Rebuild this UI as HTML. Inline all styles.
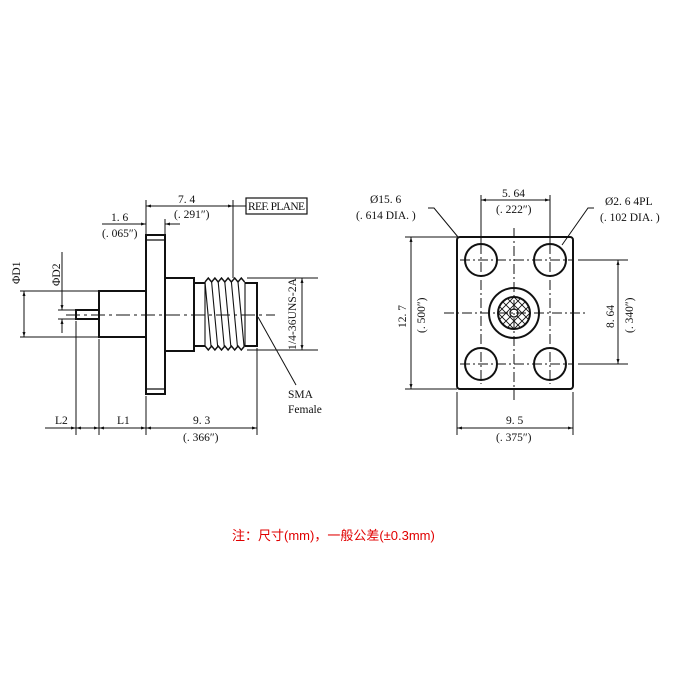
<!DOCTYPE html>
<html><head><meta charset="utf-8"><style>
body{margin:0;background:#fff;width:680px;height:680px;overflow:hidden}
svg text{font-family:"Liberation Serif","Noto Serif CJK SC",serif;font-size:11.5px;fill:#111}
</style></head><body>
<svg width="680" height="680" viewBox="0 0 680 680" xmlns="http://www.w3.org/2000/svg">
<defs>
<marker id="a" viewBox="0 0 10 10" refX="10" refY="5" markerWidth="7" markerHeight="5" orient="auto-start-reverse"><path d="M0,2 L10,5 L0,8z" fill="#111"/></marker>
<clipPath id="hc"><circle cx="514" cy="313" r="16"/></clipPath>
</defs>
<g stroke="#111" fill="none" stroke-width="2">
<rect x="146" y="235" width="19" height="159"/>
<line x1="146" y1="240" x2="165" y2="240" stroke-width="1.2"/>
<line x1="146" y1="389" x2="165" y2="389" stroke-width="1.2"/>
<rect x="165" y="278" width="29" height="73"/>
<rect x="99" y="291" width="47" height="46"/>
<rect x="76" y="310" width="23" height="9"/>
<path d="M194,283 H205 M194,346 H205 M245,283 H257 V346 H245"/>
<path d="M205,282 l3.3,-4 3.3,4 3.3,-4 3.3,4 3.3,-4 3.3,4 3.3,-4 3.3,4 3.3,-4 3.3,4 3.3,-4 3.3,4" stroke-width="1.4"/>
<path d="M205,346 l3.3,4 3.3,-4 3.3,4 3.3,-4 3.3,4 3.3,-4 3.3,4 3.3,-4 3.3,4 3.3,-4 3.3,4 3.3,-4" stroke-width="1.4"/>
<g stroke-width="1.1">
<line x1="205" y1="282" x2="211" y2="346"/><line x1="211.6" y1="282" x2="217.6" y2="346"/><line x1="218.2" y1="282" x2="224.2" y2="346"/><line x1="224.8" y1="282" x2="230.8" y2="346"/><line x1="231.4" y1="282" x2="237.4" y2="346"/><line x1="238" y1="282" x2="244" y2="346"/>
<line x1="205" y1="282" x2="205" y2="346"/><line x1="245" y1="282" x2="245" y2="346"/>
</g>
</g>
<g stroke="#111" fill="none" stroke-width="1">
<line x1="66" y1="315" x2="275" y2="315" stroke-dasharray="14,4,3,4"/>
<line x1="20" y1="291" x2="99" y2="291"/><line x1="20" y1="337" x2="99" y2="337"/>
<line x1="24" y1="291" x2="24" y2="337" marker-start="url(#a)" marker-end="url(#a)"/>
<line x1="58" y1="310" x2="76" y2="310"/><line x1="58" y1="319" x2="76" y2="319"/>
<line x1="62" y1="252" x2="62" y2="310" marker-end="url(#a)"/>
<line x1="62" y1="333" x2="62" y2="319" marker-end="url(#a)"/>
<line x1="76" y1="321" x2="76" y2="435"/><line x1="99" y1="339" x2="99" y2="435"/>
<line x1="146" y1="396" x2="146" y2="435"/><line x1="257" y1="348" x2="257" y2="435"/>
<line x1="45" y1="428" x2="76" y2="428" marker-end="url(#a)"/>
<line x1="76" y1="428" x2="99" y2="428" marker-start="url(#a)" marker-end="url(#a)"/>
<line x1="99" y1="428" x2="146" y2="428" marker-start="url(#a)" marker-end="url(#a)"/>
<line x1="146" y1="428" x2="257" y2="428" marker-start="url(#a)" marker-end="url(#a)"/>
<line x1="146" y1="200" x2="146" y2="235"/><line x1="165" y1="219" x2="165" y2="235"/>
<line x1="146" y1="206" x2="233" y2="206" marker-start="url(#a)" marker-end="url(#a)"/>
<line x1="233" y1="200" x2="233" y2="278"/><line x1="233" y1="206" x2="246" y2="206"/>
<line x1="102" y1="224" x2="146" y2="224" marker-end="url(#a)"/>
<line x1="180" y1="224" x2="165" y2="224" marker-end="url(#a)"/>
<line x1="247" y1="278" x2="318" y2="278"/><line x1="247" y1="350" x2="318" y2="350"/>
<line x1="302" y1="278" x2="302" y2="350" marker-start="url(#a)" marker-end="url(#a)"/>
<line x1="258" y1="317" x2="296" y2="385"/>
</g>
<rect x="246" y="198" width="61" height="16" fill="none" stroke="#111" stroke-width="1.2"/>
<text x="248" y="210" font-size="10" textLength="57">REF. PLANE</text>
<text x="178" y="203">7. 4</text><text x="174" y="218">(. 291″)</text>
<text x="111" y="221">1. 6</text><text x="102" y="237">(. 065″)</text>
<text transform="translate(20,284) rotate(-90)">ΦD1</text>
<text transform="translate(60,286) rotate(-90)">ΦD2</text>
<text transform="translate(296,350) rotate(-90)" font-size="10.5" textLength="72">1/4-36UNS-2A</text>
<text x="288" y="398">SMA</text><text x="288" y="413">Female</text>
<text x="55" y="424">L2</text><text x="117" y="424">L1</text>
<text x="193" y="424">9. 3</text><text x="183" y="441">(. 366″)</text>
<g stroke="#111" fill="none" stroke-width="2">
<rect x="457" y="237" width="116" height="152" rx="3"/>
<circle cx="481" cy="260" r="16"/><circle cx="550" cy="260" r="16"/>
<circle cx="481" cy="364" r="16"/><circle cx="550" cy="364" r="16"/>
<circle cx="514" cy="313" r="25"/><circle cx="514" cy="313" r="16"/>
</g>
<g clip-path="url(#hc)" stroke="#111" stroke-width="0.9">
<path d="M490,297 l48,48 M490,305 l40,40 M490,289 l48,48 M498,289 l40,40 M482,305 l48,48 M498,281 l48,48 M538,297 l-48,48 M538,305 l-40,40 M538,289 l-48,48 M530,289 l-40,40 M546,305 l-48,48 M530,281 l-48,48"/>
</g>
<circle cx="514" cy="313" r="4" fill="#fff" stroke="#111" stroke-width="1.3"/>
<g stroke="#111" fill="none" stroke-width="1">
<g stroke-dasharray="10,3,2,3">
<line x1="514" y1="228" x2="514" y2="400"/><line x1="444" y1="313" x2="586" y2="313"/>
<line x1="460" y1="260" x2="572" y2="260"/><line x1="460" y1="364" x2="572" y2="364"/>
<line x1="481" y1="244" x2="481" y2="384"/><line x1="550" y1="244" x2="550" y2="384"/>
</g>
<line x1="481" y1="195" x2="481" y2="244"/><line x1="550" y1="195" x2="550" y2="244"/>
<line x1="481" y1="200" x2="550" y2="200" marker-start="url(#a)" marker-end="url(#a)"/>
<line x1="405" y1="237" x2="457" y2="237"/><line x1="405" y1="389" x2="457" y2="389"/>
<line x1="411" y1="237" x2="411" y2="389" marker-start="url(#a)" marker-end="url(#a)"/>
<line x1="578" y1="260" x2="628" y2="260"/><line x1="578" y1="364" x2="628" y2="364"/>
<line x1="618" y1="260" x2="618" y2="364" marker-start="url(#a)" marker-end="url(#a)"/>
<line x1="457" y1="392" x2="457" y2="435"/><line x1="573" y1="392" x2="573" y2="435"/>
<line x1="457" y1="428" x2="573" y2="428" marker-start="url(#a)" marker-end="url(#a)"/>
<polyline points="428,208 434,208 458,237"/>
<polyline points="594,208 588,208 562,245"/>
</g>
<text x="502" y="197">5. 64</text><text x="496" y="213">(. 222″)</text>
<text x="370" y="203">Ø15. 6</text><text x="356" y="219">(. 614 DIA. )</text>
<text x="605" y="205">Ø2. 6 4PL</text><text x="600" y="221">(. 102 DIA. )</text>
<text transform="translate(406,328) rotate(-90)">12. 7</text>
<text transform="translate(425,333) rotate(-90)">(. 500″)</text>
<text transform="translate(614,328) rotate(-90)">8. 64</text>
<text transform="translate(633,333) rotate(-90)">(. 340″)</text>
<text x="506" y="424">9. 5</text><text x="496" y="441">(. 375″)</text>
<text x="232" y="540" style="fill:#e00000;font-family:'Liberation Sans','Noto Sans CJK SC',sans-serif;font-size:13px">注：尺寸(mm)，一般公差(±0.3mm)</text>
</svg>
</body></html>
